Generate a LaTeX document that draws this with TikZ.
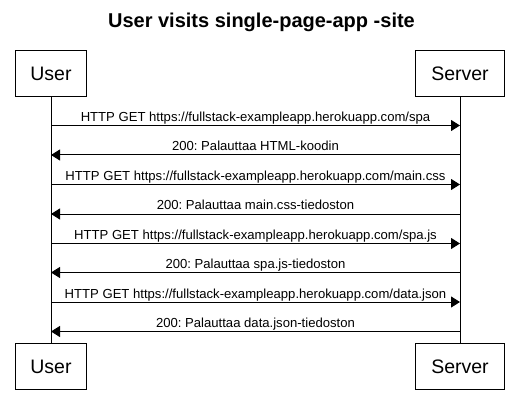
\documentclass[tikz,border=0pt]{standalone}
\usepackage{fontspec}
\setmainfont{Liberation Sans}
\usetikzlibrary{arrows.meta}
\frenchspacing

\tikzset{
  actor/.style={draw=black, line width=1pt, fill=white, inner sep=0pt,
    font=\fontsize{19.5}{22}\selectfont},
  lifeline/.style={draw=black, line width=1pt},
  msg/.style={draw=black, line width=1pt,
    -{Triangle[length=9pt,width=11pt]}},
  msglabel/.style={anchor=base, inner sep=0pt, yshift=4pt,
    font=\fontsize{13.1}{15}\selectfont},
  heading/.style={anchor=base, inner sep=0pt,
    font=\fontsize{20}{24}\selectfont\bfseries}
}

\begin{document}
\begin{tikzpicture}[x=1pt,y=-1pt]
  \useasboundingbox[fill=white] (0,0) rectangle (519,414);

  % title
  \node[heading] (title) at (261.5,28) {User visits single-page-app -site};

  % participant boxes, top and bottom
  \node[actor, minimum width=71pt, minimum height=46pt] (userTop) at (51,74) {User};
  \node[actor, minimum width=89pt, minimum height=46pt] (serverTop) at (460,74) {Server};
  \node[actor, minimum width=71pt, minimum height=46pt] (userBot) at (51,366.5) {User};
  \node[actor, minimum width=89pt, minimum height=46pt] (serverBot) at (460,366.5) {Server};

  % lifelines
  \draw[lifeline] (userTop.south) -- (userBot.north);
  \draw[lifeline] (serverTop.south) -- (serverBot.north);

  % message anchor points on the lifelines
  \foreach \i/\y in {1/125.5,2/155,3/184.5,4/214,5/243.5,6/272.5,7/302,8/331.5}{
    \coordinate (u\i) at (51,\y);
    \coordinate (s\i) at (460,\y);
  }

  % requests and responses
  \draw[msg] (u1) -- node[msglabel] {HTTP GET https://fullstack-exampleapp.herokuapp.com/spa} (s1);
  \draw[msg] (s2) -- node[msglabel] {200: Palauttaa HTML-koodin} (u2);
  \draw[msg] (u3) -- node[msglabel] {HTTP GET https://fullstack-exampleapp.herokuapp.com/main.css} (s3);
  \draw[msg] (s4) -- node[msglabel] {200: Palauttaa main.css-tiedoston} (u4);
  \draw[msg] (u5) -- node[msglabel] {HTTP GET https://fullstack-exampleapp.herokuapp.com/spa.js} (s5);
  \draw[msg] (s6) -- node[msglabel] {200: Palauttaa spa.js-tiedoston} (u6);
  \draw[msg] (u7) -- node[msglabel] {HTTP GET https://fullstack-exampleapp.herokuapp.com/data.json} (s7);
  \draw[msg] (s8) -- node[msglabel] {200: Palauttaa data.json-tiedoston} (u8);
\end{tikzpicture}
\end{document}
